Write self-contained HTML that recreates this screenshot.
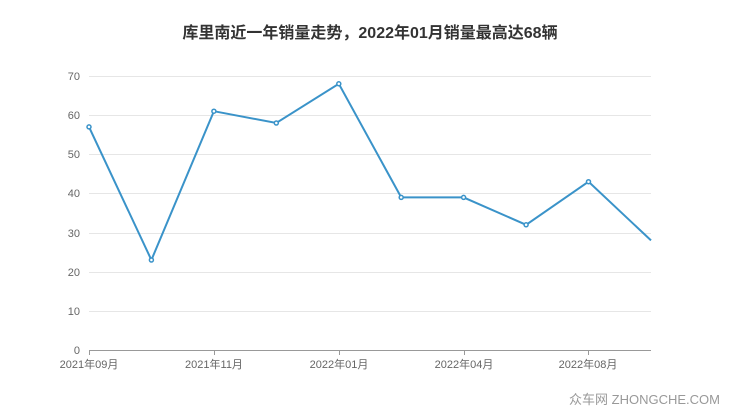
<!DOCTYPE html>
<html><head><meta charset="utf-8"><style>
body{margin:0;background:#fff;}
svg{display:block;font-family:"Liberation Sans","Noto Sans CJK SC",sans-serif;}
</style></head><body>
<svg width="740" height="417" viewBox="0 0 740 417">
<text x="370" y="38" text-anchor="middle" font-size="16" font-weight="bold" fill="#333">库里南近一年销量走势，2022年01月销量最高达68辆</text>
<g stroke="#e6e6e6" stroke-width="1">
<line x1="89" y1="76.5" x2="651" y2="76.5"/>
<line x1="89" y1="115.5" x2="651" y2="115.5"/>
<line x1="89" y1="154.5" x2="651" y2="154.5"/>
<line x1="89" y1="193.5" x2="651" y2="193.5"/>
<line x1="89" y1="233.5" x2="651" y2="233.5"/>
<line x1="89" y1="272.5" x2="651" y2="272.5"/>
<line x1="89" y1="311.5" x2="651" y2="311.5"/>
</g>
<g font-size="11" fill="#666" text-anchor="end">
<text x="80" y="80">70</text><text x="80" y="119">60</text><text x="80" y="158">50</text>
<text x="80" y="197">40</text><text x="80" y="237">30</text><text x="80" y="276">20</text>
<text x="80" y="315">10</text><text x="80" y="354">0</text>
</g>
<g stroke="#999" stroke-width="1">
<line x1="89" y1="350.5" x2="651" y2="350.5"/>
<line x1="89.5" y1="350" x2="89.5" y2="355"/>
<line x1="214.5" y1="350" x2="214.5" y2="355"/>
<line x1="339.5" y1="350" x2="339.5" y2="355"/>
<line x1="464.5" y1="350" x2="464.5" y2="355"/>
<line x1="588.5" y1="350" x2="588.5" y2="355"/>
</g>
<g font-size="11" fill="#666" text-anchor="middle">
<text x="89" y="368">2021年09月</text><text x="214" y="368">2021年11月</text>
<text x="339" y="368">2022年01月</text><text x="464" y="368">2022年04月</text>
<text x="588" y="368">2022年08月</text>
</g>
<polyline fill="none" stroke="#3a93c9" stroke-width="2" points="89,126.9 151.4,260 213.9,111.2 276.3,123 338.8,83.8 401.2,197.4 463.6,197.4 526.1,224.8 588.5,181.7 651,240.4"/>
<g fill="#fff" stroke="#3a93c9" stroke-width="1.5">
<circle cx="89" cy="126.9" r="2"/><circle cx="151.4" cy="260" r="2"/><circle cx="213.9" cy="111.2" r="2"/>
<circle cx="276.3" cy="123" r="2"/><circle cx="338.8" cy="83.8" r="2"/><circle cx="401.2" cy="197.4" r="2"/>
<circle cx="463.6" cy="197.4" r="2"/><circle cx="526.1" cy="224.8" r="2"/><circle cx="588.5" cy="181.7" r="2"/>
</g>
<text x="720" y="404" text-anchor="end" font-size="13" fill="#999">众车网 ZHONGCHE.COM</text>
</svg>
</body></html>
